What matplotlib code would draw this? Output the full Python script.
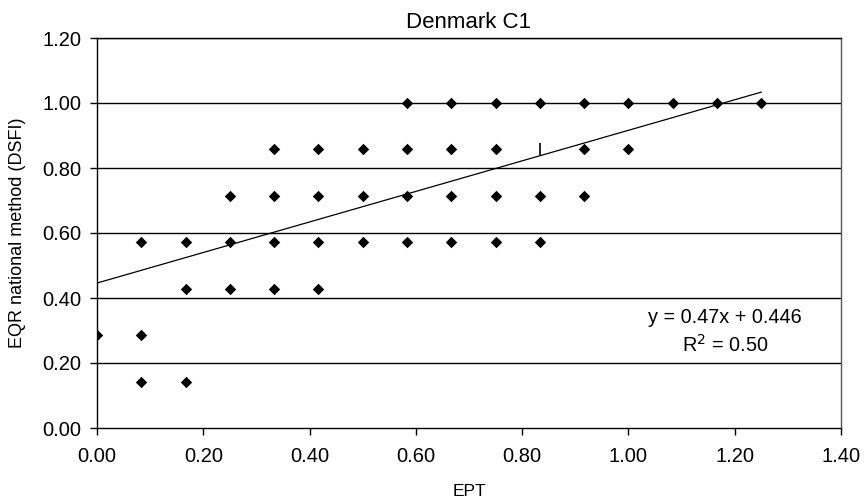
import matplotlib
matplotlib.use("Agg")
import matplotlib.pyplot as plt
import numpy as np

plt.rcParams['font.family'] = ['Liberation Sans', 'DejaVu Sans']

ept_x = [0.0,
         1/12, 1/12, 1/12,
         2/12, 2/12, 2/12,
         3/12, 3/12, 3/12,
         4/12, 4/12, 4/12, 4/12,
         5/12, 5/12, 5/12, 5/12,
         6/12, 6/12, 6/12,
         7/12, 7/12, 7/12, 7/12,
         8/12, 8/12, 8/12, 8/12,
         9/12, 9/12, 9/12, 9/12,
         10/12, 10/12, 10/12,
         11/12, 11/12, 11/12,
         12/12, 12/12,
         13/12, 14/12, 15/12]
eqr_y = [2/7,
         4/7, 2/7, 1/7,
         4/7, 3/7, 1/7,
         5/7, 4/7, 3/7,
         6/7, 5/7, 4/7, 3/7,
         6/7, 5/7, 4/7, 3/7,
         6/7, 5/7, 4/7,
         1.0, 6/7, 5/7, 4/7,
         1.0, 6/7, 5/7, 4/7,
         1.0, 6/7, 5/7, 4/7,
         1.0, 5/7, 4/7,
         1.0, 6/7, 5/7,
         1.0, 6/7,
         1.0, 1.0, 1.0]
extra_x = [10/12]
extra_y = [6/7]
slope = 0.47
intercept = 0.446
x_ticks = [0.0, 0.2, 0.4, 0.6, 0.8, 1.0, 1.2, 1.4]
y_ticks = [0.0, 0.2, 0.4, 0.6, 0.8, 1.0, 1.2]

fig = plt.figure(figsize=(8.67, 5.04), dpi=100)
ax = fig.add_axes([97/867, 1-428/504, 744/867, 390/504])

for yt in y_ticks[1:]:
    ax.axhline(yt, color='black', lw=1.0, zorder=1)

ax.scatter(ept_x, eqr_y, marker='D', s=34, color='black', zorder=3, linewidths=0)
ax.plot(extra_x, extra_y, marker='|', markersize=9, color='black', mew=1.2, ls='none', zorder=3)

xl = np.array([0.0, max(ept_x)])
ax.plot(xl, intercept + slope*xl, color='black', lw=0.9, zorder=2)

ax.set_xlim(0, 1.4)
ax.set_ylim(0, 1.2)
ax.set_xticks(x_ticks)
ax.set_yticks(y_ticks)
ax.set_xticklabels([f"{v:.2f}" for v in x_ticks], fontsize=14.5)
ax.set_yticklabels([f"{v:.2f}" for v in y_ticks], fontsize=14.5)
ax.tick_params(direction='out', length=5, width=1, color='black')
ax.tick_params(axis='x', pad=9)
ax.tick_params(axis='y', pad=6)
for s in ['left', 'bottom', 'right', 'top']:
    ax.spines[s].set_linewidth(1.0)
    ax.spines[s].set_color('black')
ax.spines['right'].set_color('#555555')

ax.set_xlabel('EPT', fontsize=12.5, labelpad=13)
ax.set_ylabel('EQR national method (DSFI)', fontsize=13, labelpad=12)
ax.set_title('Denmark C1', fontsize=16, pad=7)

ax.text(1.1817, 0.3415, 'y = 0.47x + 0.446', fontsize=14.3, ha='center', va='center')
ax.text(1.1817, 0.255, r'R$^2$ = 0.50', fontsize=14.3, ha='center', va='center')

fig.savefig('out.png', dpi=100)
